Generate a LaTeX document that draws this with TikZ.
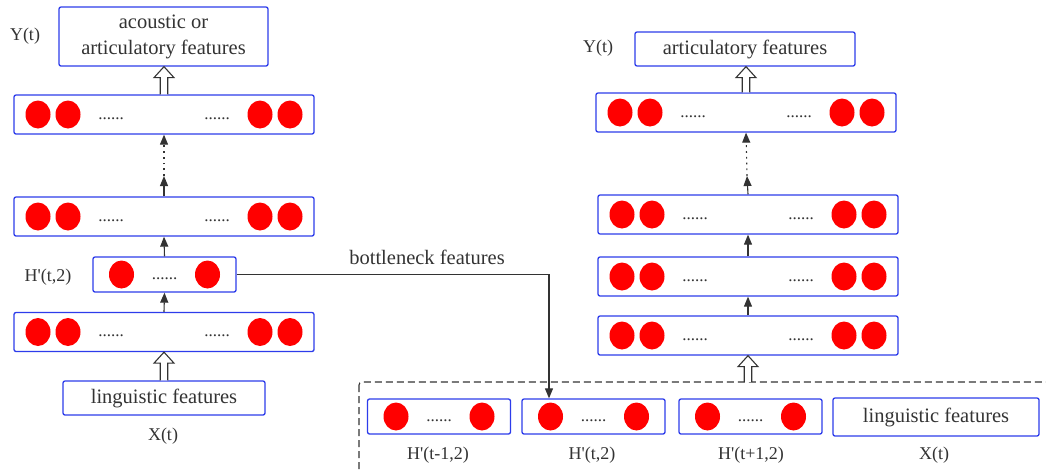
\documentclass[tikz,border=0pt]{standalone}
\usepackage{fontspec}
\setmainfont{Liberation Serif}
\usetikzlibrary{arrows.meta,calc,shapes.geometric}
\definecolor{boxblue}{RGB}{45,60,235}
\definecolor{ink}{RGB}{51,51,51}
\definecolor{neuronred}{RGB}{255,0,0}
\tikzset{
  layer/.style={draw=boxblue, line width=1.3pt, rounded corners=2pt, fill=white, inner sep=0pt},
  biglayer/.style={layer, minimum width=300pt, minimum height=39pt},
  smalllayer/.style={layer, minimum width=143pt, minimum height=35pt},
  textbox/.style={layer, text=ink, font=\fontsize{20.5}{26}\selectfont, align=center},
  neuron/.style={ellipse, fill=neuronred, draw=none, minimum width=25pt, minimum height=28pt, inner sep=0pt},
  dotsn/.style={text=ink, font=\fontsize{17}{17}\selectfont, inner sep=0pt},
  lbl/.style={text=ink, font=\fontsize{18}{18}\selectfont, inner sep=0pt},
  arr/.style={draw=ink, line width=1.1pt, -{Triangle[width=8pt,length=10pt]}},
  dotarr/.style={arr, dash pattern=on 1.8pt off 4pt},
  line/.style={draw=ink, line width=1.1pt},
  hollow/.style={draw=ink, fill=white, line width=1.1pt},
  dashbox/.style={draw=ink, line width=1.1pt, dash pattern=on 7pt off 4pt, rounded corners=3pt}
}
\newcommand{\mkbig}[3]{%
  \node[biglayer] (#1) at (#2,#3) {};
  \node[neuron] (#1-n1) at ([xshift=-126pt]#1.center) {};
  \node[neuron] (#1-n2) at ([xshift=-96pt]#1.center) {};
  \node[neuron] (#1-n3) at ([xshift=96pt]#1.center) {};
  \node[neuron] (#1-n4) at ([xshift=126pt]#1.center) {};
  \node[dotsn] (#1-d1) at ([xshift=-53pt,yshift=-4pt]#1.center) {......};
  \node[dotsn] (#1-d2) at ([xshift=53pt,yshift=-4pt]#1.center) {......};
}
\newcommand{\mksmall}[3]{%
  \node[smalllayer] (#1) at (#2,#3) {};
  \node[neuron] (#1-n1) at ([xshift=-43pt]#1.center) {};
  \node[neuron] (#1-n2) at ([xshift=43pt]#1.center) {};
  \node[dotsn] (#1-d1) at ([yshift=-4pt]#1.center) {......};
}
\newcommand{\hollowup}[2]{%
  \filldraw[hollow] let \p1=#1, \p2=#2 in
    (\x1-3.75pt,\y1) -- (\x1-3.75pt,\y2-11pt) -- (\x1-10pt,\y2-11pt) -- (\x1,\y2)
    -- (\x1+10pt,\y2-11pt) -- (\x1+3.75pt,\y2-11pt) -- (\x1+3.75pt,\y1);
}
\newcommand{\q}{\textquotesingle}
\begin{document}
\begin{tikzpicture}[x=1pt,y=-1pt]
\useasboundingbox (0,0) rectangle (1046,472);
\clip (0,0) rectangle (1046,472);
\fill[white] (0,0) rectangle (1046,472);

% ---------- left network ----------
\node[textbox, minimum width=209pt, minimum height=59pt] (Ltop) at (163.5,36.5) {acoustic or\\articulatory features};
\node[lbl] (LYt) at (25,36) {Y(t)};
\mkbig{L5}{164}{114.5}
\mkbig{L4}{164}{216.5}
\mksmall{LH}{164.5}{274.5}
\mkbig{L2}{164}{332}
\node[textbox, minimum width=202pt, minimum height=34pt] (Lin) at (164,398) {linguistic features};
\node[lbl] (LHt) at (48,277) {H\q(t,2)};
\node[lbl] (LXt) at (163,436) {X(t)};

\hollowup{(L5.north)}{(Ltop.south)}
\coordinate (Lmid) at (164,176);
\draw[arr] (L4.north) -- (Lmid);
\draw[dotarr] (Lmid) -- (L5.south);
\draw[arr] (LH.north) -- (L4.south);
\draw[arr] (L2.north) -- (LH.south);
\hollowup{(Lin.north)}{(L2.south)}

% ---------- right network ----------
\node[textbox, minimum width=220pt, minimum height=34pt] (Rtop) at (745,49) {articulatory features};
\node[lbl] (RYt) at (598,48) {Y(t)};
\mkbig{R5}{746}{112.5}
\mkbig{R4}{748}{214.5}
\mkbig{R3}{748}{276.5}
\mkbig{R2}{748}{335.5}

\hollowup{(R5.north)}{(Rtop.south)}
\coordinate (Rmid) at (747,176);
\draw[arr] (R4.north) -- (Rmid);
\draw[dotarr] (Rmid) -- (R5.south);
\draw[arr] (R3.north) -- (R4.south);
\draw[arr] (R2.north) -- (R3.south);

% ---------- input window ----------
\draw[dashbox] (359,382) rectangle (1070,500);
\coordinate (dtop) at (748,382);
\hollowup{(dtop)}{(R2.south)}
\mksmall{B1}{439}{416.5}
\mksmall{B2}{593.5}{416.5}
\mksmall{B3}{750.5}{416.5}
\node[textbox, minimum width=206pt, minimum height=38pt] (B4) at (936,417) {linguistic features};
\node[lbl] (B1l) at (438,455) {H\q(t-1,2)};
\node[lbl] (B2l) at (592,455) {H\q(t,2)};
\node[lbl] (B3l) at (751,455) {H\q(t+1,2)};
\node[lbl] (B4l) at (934,455) {X(t)};

% ---------- bottleneck connection ----------
\node[text=ink, font=\fontsize{20.5}{20}\selectfont, inner sep=0pt] (bnl) at (427,257) {bottleneck features};
\coordinate (bnx) at (549,0);
\draw[arr] (LH.east) -| (bnx |- B2.north);
\end{tikzpicture}
\end{document}
